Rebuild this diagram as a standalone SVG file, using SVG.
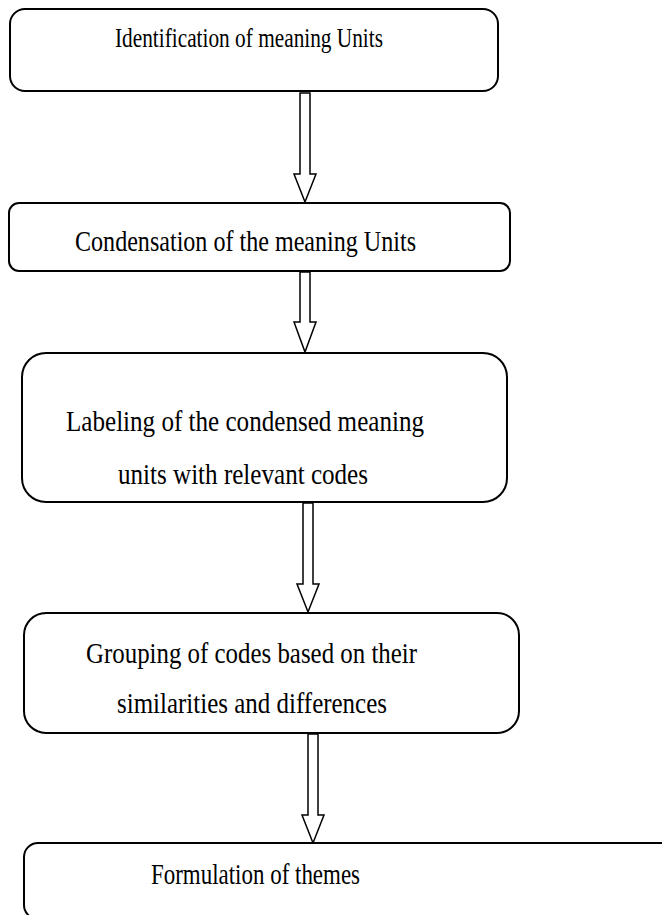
<svg xmlns="http://www.w3.org/2000/svg" width="662" height="915" viewBox="0 0 662 915">
<style>
.box{fill:#fff;stroke:#000;stroke-width:2}
.arr{fill:#fff;stroke:#000;stroke-width:1.5;stroke-linejoin:miter}
text{font-family:"Liberation Serif","Times New Roman",serif;fill:#000;font-size:30px}
</style>
<rect width="662" height="915" fill="#fff"/>
<g id="connectors">
<path class="arr" d="M300,93 L310,93 L310,174 L316,174 L305,202 L294,174 L300,174 Z"/>
<path class="arr" d="M300,272 L310,272 L310,322 L316,322 L305,352 L294,322 L300,322 Z"/>
<path class="arr" d="M303,503 L313,503 L313,584 L319,584 L308,612 L297,584 L303,584 Z"/>
<path class="arr" d="M308,734 L318,734 L318,815 L324,815 L313,843 L302,815 L308,815 Z"/>
</g>
<g id="node1">
<rect class="box" x="10" y="9" width="488" height="82" rx="15"/>
<text x="115" y="47" style="font-size:27px" textLength="268" lengthAdjust="spacingAndGlyphs">Identification of meaning Units</text>
</g>
<g id="node2">
<rect class="box" x="9" y="203" width="501" height="68" rx="10"/>
<text x="75" y="251" textLength="341" lengthAdjust="spacingAndGlyphs">Condensation of the meaning Units</text>
</g>
<g id="node3">
<rect class="box" x="22" y="353" width="485" height="149" rx="24"/>
<text x="66" y="431" textLength="358" lengthAdjust="spacingAndGlyphs">Labeling of the condensed meaning</text>
<text x="118" y="484" textLength="250" lengthAdjust="spacingAndGlyphs">units with relevant codes</text>
</g>
<g id="node4">
<rect class="box" x="24" y="613" width="495" height="120" rx="22"/>
<text x="86" y="663" textLength="331" lengthAdjust="spacingAndGlyphs">Grouping of codes based on their</text>
<text x="117" y="713" textLength="270" lengthAdjust="spacingAndGlyphs">similarities and differences</text>
</g>
<g id="node5">
<rect class="box" x="24" y="843" width="700" height="76" rx="14"/>
<text x="151" y="884" textLength="209" lengthAdjust="spacingAndGlyphs">Formulation of themes</text>
</g>
</svg>
